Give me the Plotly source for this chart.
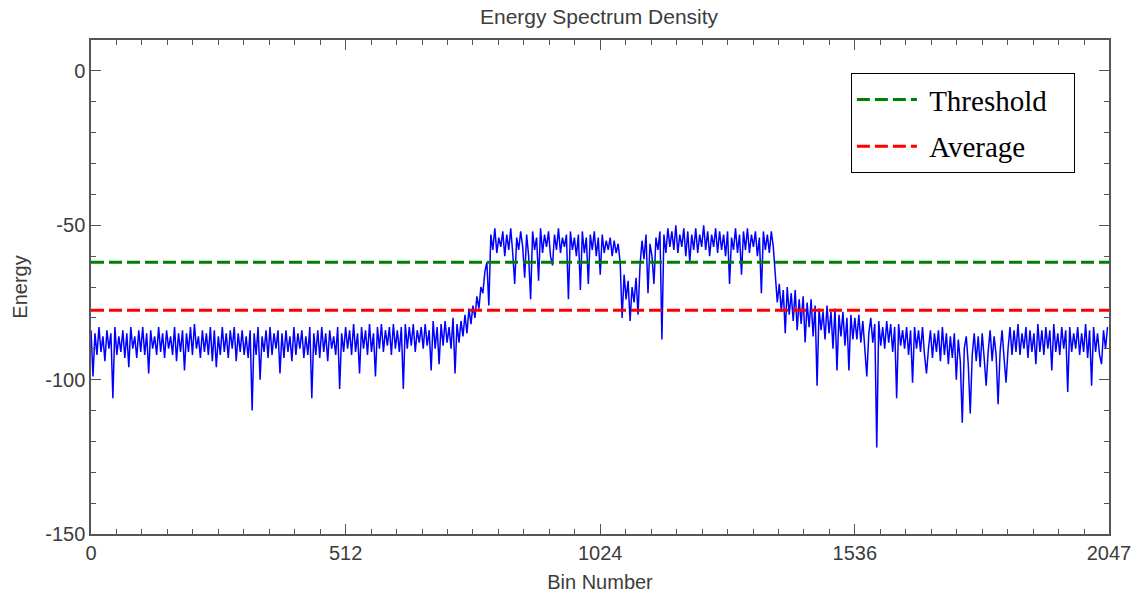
import numpy as np
import plotly.graph_objects as go

# ---- data (one value every 4 bins) ----
bin_step = 4

noise_left = [
    -84, -99, -85, -92, -83, -91, -86, -94, -84, -90, -85, -106, -83, -92, -86, -91,
    -84, -93, -85, -96, -83, -90, -86, -93, -84, -91, -83, -92, -85, -98, -84, -90,
    -86, -92, -83, -91, -85, -93, -84, -90, -86, -92, -83, -94, -85, -91, -84, -97,
    -85, -91, -83, -92, -82, -90, -86, -93, -84, -91, -85, -92, -83, -94, -84, -96,
    -86, -92, -83, -91, -85, -93, -84, -90, -83, -94, -85, -91, -84, -92, -86, -93,
    -84, -110, -85, -92, -83, -100, -86, -91, -84, -93, -83, -92, -85, -90, -84, -98,
    -85, -93, -84, -91, -86, -94, -83, -92, -85, -90, -84, -93, -86, -92, -83, -106,
    -85, -92, -84, -93, -83, -91, -85, -94, -84, -90, -86, -92, -83, -103, -85, -91,
    -83, -90, -84, -92, -82, -91, -85, -98, -83, -90, -84, -92, -82, -91, -85, -99,
    -83, -90, -82, -91, -84, -89, -83, -92, -82, -90, -84, -91, -83, -103, -82, -90,
    -83, -89, -82, -91, -84, -88, -83, -90, -82, -89, -84, -97, -81, -90, -83, -95,
    -82, -89, -81, -88, -83, -90, -80, -98, -82, -88, -81, -86,
]
rise_left = [-79, -85, -77, -82, -76, -80, -73, -77, -70, -72, -65, -62]
plateau_left = [
    -76, -53, -58, -51, -59, -54, -57, -52, -60, -53, -58, -51, -59, -69, -54, -58,
    -52, -57, -67, -53, -60, -74, -52, -58, -54, -68, -51, -59, -53, -57, -52, -60,
    -63, -53, -58, -51, -59, -54, -57, -53, -74, -52, -58, -54, -60, -53, -71, -52,
    -59, -54, -69, -53, -58, -52, -60, -54, -66, -53, -59, -55, -58, -54, -60, -55,
    -59,
]
dip_centre = [-56, -62, -80, -66, -74, -68, -81, -70, -75, -67, -79, -63, -55, -61, -53, -72, -56, -60]
plateau_right = [
    -69, -54, -58, -52, -87, -53, -59, -51, -57, -52, -58, -50, -59, -53, -57, -51,
    -60, -52, -62, -53, -58, -51, -59, -53, -57, -50, -58, -52, -60, -53, -57, -51,
    -59, -52, -58, -53, -60, -52, -69, -54, -58, -51, -59, -53, -66, -52, -58, -51,
    -59, -53, -57, -52, -60, -54, -72, -52, -58, -53, -59, -52, -57,
]
decay_right = [
    -66, -75, -69, -78, -71, -85, -70, -79, -72, -81, -71, -84, -74, -82, -73, -88,
    -75, -83, -74, -86, -76, -102, -77, -84, -78, -87, -76, -85, -78, -90, -77, -97,
    -79, -86, -78, -89, -80, -97, -79, -87,
]
noise_right = [
    -80, -87, -79, -88, -81, -89, -99, -85, -80, -88, -82, -122, -81, -89, -83, -90,
    -81, -88, -82, -91, -83, -106, -82, -89, -84, -90, -83, -92, -84, -101, -83, -90,
    -84, -91, -83, -92, -98, -90, -84, -93, -85, -91, -84, -94, -83, -92, -85, -95,
    -86, -93, -85, -100, -87, -94, -114, -90, -86, -95, -111, -92, -85, -94, -86, -96,
    -85, -93, -102, -91, -84, -94, -86, -92, -108, -91, -84, -93, -101, -90, -83, -92,
    -84, -91, -82, -92, -85, -90, -83, -93, -84, -91, -85, -95, -82, -91, -84, -92,
    -83, -90, -84, -97, -82, -91, -85, -92, -83, -90, -84, -104, -83, -91, -85, -90,
    -83, -92, -85, -91, -82, -93, -84, -102, -83, -91, -85, -92, -95, -84, -90, -83,
]

threshold_level = -62
average_level = -77.5
x_tick_vals = [0, 512, 1024, 1536, 2047]
y_tick_vals = [-150, -100, -50, 0]
y_tick_text = ["-150", "-100", "-50", "0"]

energy = (noise_left + rise_left + plateau_left + dip_centre
          + plateau_right + decay_right + noise_right)
bins = np.arange(len(energy)) * bin_step
x_span = [0, 2047]

nbsp = "\u00a0"

fig = go.Figure()
fig.add_trace(go.Scatter(
    x=bins, y=energy, mode="lines", showlegend=False,
    line=dict(color="#0000FF", width=1.5), hoverinfo="skip"))
fig.add_trace(go.Scatter(
    x=x_span, y=[threshold_level] * 2, mode="lines",
    name=nbsp + "Threshold" + nbsp * 3,
    legendgroup="a",
    line=dict(color="#008000", width=3, dash="13px,5px")))
fig.add_trace(go.Scatter(
    x=x_span, y=[average_level] * 2, mode="lines",
    name=nbsp + "Average" + nbsp * 3,
    legendgroup="b",
    line=dict(color="#FF0000", width=3, dash="13px,5px")))

text_font = dict(family="Liberation Sans, Arial", size=20, color="#3c3c3c")

axis_common = dict(
    showgrid=False, zeroline=False, showline=True, linecolor="#555555",
    linewidth=1.5, mirror="allticks", ticks="inside", ticklen=10,
    tickwidth=1.3, tickcolor="#555555",
    tickfont=text_font, automargin=False,
)

fig.update_layout(
    width=1141, height=594,
    margin=dict(l=91, r=32, t=40, b=60),
    paper_bgcolor="white", plot_bgcolor="white",
    title=dict(text="Energy Spectrum Density", x=0.525, xanchor="center",
               y=0.972, yanchor="middle",
               font=dict(family="Liberation Sans, Arial", size=21, color="#3c3c3c")),
    xaxis=dict(
        range=[0, 2047], tickvals=x_tick_vals,
        ticktext=[str(v) for v in x_tick_vals],
        title=dict(text="Bin Number", standoff=12, font=text_font),
        minor=dict(ticks="inside", dtick=51.2, tick0=0, ticklen=5,
                   tickwidth=1.3, tickcolor="#555555"),
        **axis_common),
    yaxis=dict(
        range=[-150, 10], tickvals=y_tick_vals, ticktext=y_tick_text,
        title=dict(text="Energy", standoff=12, font=text_font),
        minor=dict(ticks="inside", dtick=10, tick0=0, ticklen=5,
                   tickwidth=1.3, tickcolor="#555555"),
        **axis_common),
    legend=dict(
        x=0.9665, xanchor="right", y=0.933, yanchor="top",
        bgcolor="white", bordercolor="black", borderwidth=1,
        font=dict(family="Liberation Serif, Times New Roman", size=29, color="black"),
        itemwidth=60, traceorder="grouped", tracegroupgap=6,
    ),
)

fig.write_html("out.html", config={"displayModeBar": False},
               post_script="document.body.style.margin='0';")
